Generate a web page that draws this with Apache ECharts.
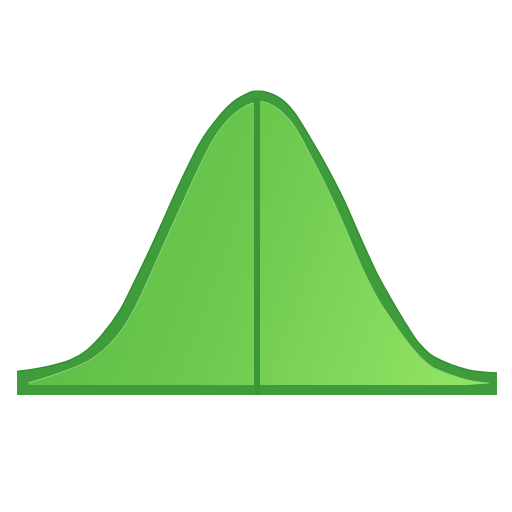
<!DOCTYPE html>
<html>
<head>
<meta charset="utf-8">
<script src="https://cdn.jsdelivr.net/npm/echarts@6/dist/echarts.min.js"></script>
<style>
  html, body { margin: 0; padding: 0; background: #fff; }
  #chart { width: 512px; height: 512px; }
</style>
</head>
<body>
<div id="chart"></div>
<script>
// outer outline of the bell (x in sigma units, y as share of the peak height)
var outerX = [-4.0, -3.5, -3.11, -2.83, -2.56, -2.28, -2.11, -1.75, -1.5, -1.22, -0.94, -0.66, -0.39, -0.11, 0,
              0.34, 0.61, 0.89, 1.17, 1.45, 1.73, 2.01, 2.28, 2.5, 2.7, 2.95, 3.52, 4.0];
var outerY = [0.077, 0.093, 0.115, 0.148, 0.203, 0.28, 0.345, 0.493, 0.603, 0.724, 0.833, 0.91, 0.965, 0.996, 1.0,
              0.981, 0.932, 0.844, 0.748, 0.64, 0.515, 0.395, 0.3, 0.228, 0.17, 0.125, 0.082, 0.072];

// inner light panel
var innerX = [-3.81, -3.61, -3.23, -2.83, -2.5, -2.22, -1.97, -1.56, -1.28, -1.0, -0.72, -0.44, -0.16, -0.06,
              0.06, 0.34, 0.61, 0.89, 1.17, 1.45, 1.73, 2.01, 2.23, 2.45, 2.7, 2.95, 3.51, 3.86];
var innerY = [0.04, 0.052, 0.077, 0.11, 0.159, 0.225, 0.313, 0.493, 0.615, 0.735, 0.844, 0.915, 0.954, 0.96,
              0.965, 0.943, 0.888, 0.789, 0.68, 0.559, 0.428, 0.318, 0.252, 0.19, 0.13, 0.089, 0.049, 0.039];

// floor of the inner panel and the mean line
var innerFloor = 0.033;
var meanX = 0;
var meanTop = 0.975;

function pairs(xs, ys) {
  var out = [];
  for (var i = 0; i < xs.length; i++) {
    out.push([xs[i], ys[i]]);
  }
  return out;
}

var chart = echarts.init(document.getElementById('chart'));

chart.setOption({
  animation: false,
  grid: { left: 17, right: 15, top: 91, bottom: 117 },
  xAxis: { type: 'value', min: -4, max: 4, show: false },
  yAxis: { type: 'value', min: 0, max: 1, show: false },
  series: [{
    // dark green body
    type: 'line',
    data: pairs(outerX, outerY),
    smooth: 0.3,
    symbol: 'none',
    lineStyle: { color: '#338f31', width: 1.5 },
    areaStyle: { color: '#3f9c3a', opacity: 1 }
  }, {
    // light green inner panel
    type: 'line',
    data: pairs(innerX, innerY),
    smooth: 0.3,
    symbol: 'none',
    lineStyle: { color: '#8fd77a', width: 1 },
    areaStyle: {
      origin: innerFloor,
      opacity: 1,
      color: new echarts.graphic.LinearGradient(0, 0, 1, 0.6, [
        { offset: 0, color: '#56b543' },
        { offset: 0.5, color: '#6cc84e' },
        { offset: 1, color: '#90e263' }
      ])
    },
    markLine: {
      silent: true,
      symbol: 'none',
      label: { show: false },
      lineStyle: { color: '#3a9636', width: 6, type: 'solid' },
      data: [[{ coord: [meanX, 0] }, { coord: [meanX, meanTop] }]]
    }
  }]
});
</script>
</body>
</html>
